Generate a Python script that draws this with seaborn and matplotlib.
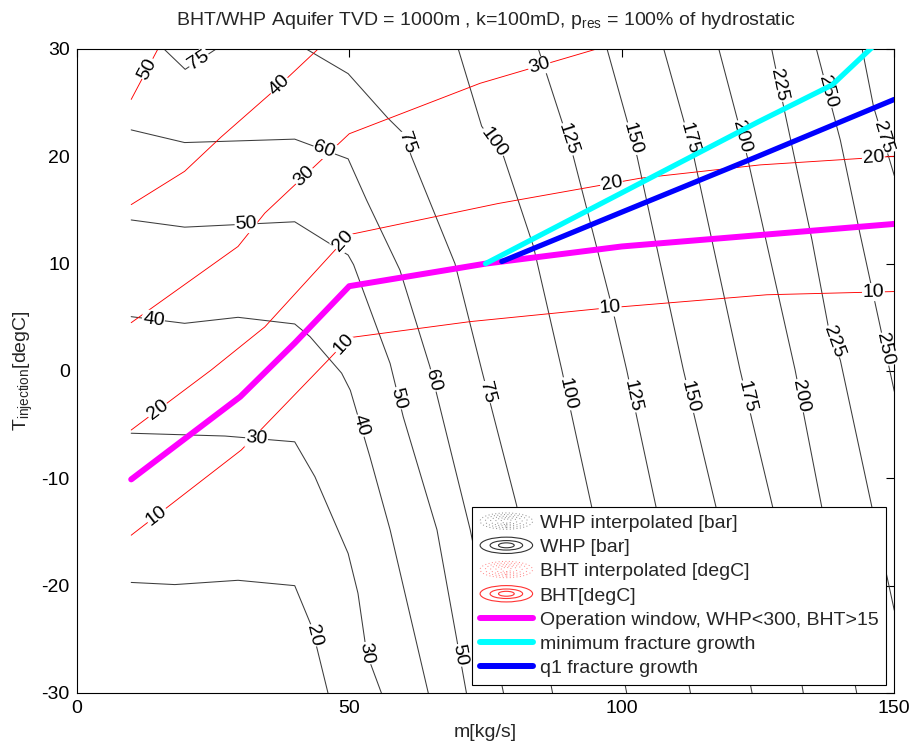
import numpy as np
import matplotlib
matplotlib.use("Agg")
import matplotlib.pyplot as plt
import seaborn as sns
from matplotlib.legend_handler import HandlerBase
from matplotlib.patches import Ellipse
from matplotlib.lines import Line2D

# ---------------- data ----------------
# WHP contours [bar]: x = m [kg/s], y = T_injection [degC]
whp20_x = [10, 18, 29.6, 40, 43.1, 46.1]
whp20_y = [-19.7, -19.9, -19.5, -20.0, -23.8, -30]
whp30_x = [10, 27.2, 40, 43.7, 49.8, 51.6, 53.2, 55.9]
whp30_y = [-5.8, -6.06, -6.6, -9.85, -17, -20.7, -26.3, -30]
whp40_x = [10, 19.8, 29.6, 40, 42.8, 48.6, 50.2, 53.8, 57.5, 64.5]
whp40_y = [5.06, 4.44, 5.0, 4.38, 3.2, -0.2, -1.8, -8.0, -14.8, -30]
whp50_x = [10, 19.8, 40, 49.8, 50.8, 57.5, 59.9, 66.1, 71.5]
whp50_y = [14.07, 13.4, 13.9, 10.8, 9.9, 0.7, -4.26, -14.8, -30]
whp60_x = [10, 19.8, 40, 49.8, 53.2, 59.3, 64.8, 72.2, 78.3]
whp60_y = [22.46, 21.28, 21.6, 19.76, 15.9, 9.4, 0.4, -14.8, -30]
whp75a_x = [16, 19.9, 25.6]
whp75a_y = [30, 28.1, 30]
whp75_x = [42.1, 49.8, 57.1, 59.9, 61.4, 69.4, 74.3, 80.7, 87.3]
whp75_y = [30, 27.7, 23.55, 22.15, 20.0, 10.0, 0.1, -12.5, -30]
whp100_x = [70, 74.3, 78.3, 83.8, 89, 94.5, 100.9]
whp100_y = [30, 22.8, 20.0, 11.6, 0.1, -12.7, -30]
whp125_x = [84.7, 91.1, 98.2, 100.9, 106.3, 112.6]
whp125_y = [30, 20.0, 6.0, 0.1, -12.7, -30]
whp150_x = [97.3, 102.8, 111.3, 117.3, 123.9]
whp150_y = [30, 20, 0.1, -12.7, -30]
whp175_x = [107.7, 113.2, 121.7, 127.7, 133.3]
whp175_y = [30, 20, 0.1, -12.7, -30]
whp200_x = [117.8, 123, 131.8, 136.7, 143.1]
whp200_y = [30, 20, 0.1, -12.7, -30]
whp225_x = [127.5, 129.7, 134.9, 137.9, 140.1, 145.9, 150]
whp225_y = [30, 24.6, 12.2, 4.1, 1.0, -12.7, -22.3]
whp250_x = [135.7, 140.1, 143.7, 150]
whp250_y = [30, 21.5, 12.8, -1.9]
whp275_x = [144.1, 146.2, 150]
whp275_y = [30, 24.6, 18.2]

# BHT contours [degC]
bht50_x = [10, 14.9]
bht50_y = [25.3, 30]
bht40_x = [10, 19.8, 26.5, 35.7, 44.3]
bht40_y = [15.5, 18.6, 21.8, 25.9, 30]
bht30_x = [10, 29.6, 34.5, 50, 74, 95.4]
bht30_y = [4.5, 11.6, 14.7, 22.1, 26.8, 30]
bht20_x = [10, 24.7, 34.5, 48, 50, 77.3, 103.4, 125.4, 150]
bht20_y = [-5.5, 0.1, 4.1, 11.6, 12.7, 15.6, 17.96, 19.2, 20.0]
bht10_x = [10, 30.2, 46.1, 50, 72.2, 96.6, 126.6, 150]
bht10_y = [-15.3, -7.36, 1.0, 3.1, 4.6, 5.84, 7.1, 7.4]

# thick lines
op_x = [10, 30, 40, 50, 75, 100, 125, 150]
op_y = [-10.1, -2.4, 2.6, 7.9, 10.0, 11.6, 12.65, 13.7]
minfrac_x = [75, 100, 125, 138.6, 150]
minfrac_y = [10.0, 16.6, 23.2, 26.65, 32.1]
q1frac_x = [78, 100, 125, 150]
q1frac_y = [10.2, 14.8, 20.0, 25.3]

# contour labels (approximate positions, snapped onto the line in code)
whp_lab_val = [75, 60, 50, 50, 50, 40, 40, 30, 30, 20, 75, 75, 60, 100, 100, 125, 125,
               150, 150, 175, 175, 200, 200, 225, 225, 250, 250, 275]
whp_lab_x = [22.6, 45.2, 31.1, 57.8, 70.2, 14, 51.4, 33, 53.2, 42.1, 59.9, 74.3, 64.5, 76.1, 89.3, 89, 101.2,
             100.9, 112.2, 111.3, 123, 121.1, 131.8, 127.8, 138.6, 136.7, 148, 147.4]
whp_lab_y = [28.8, 20.3, 13.4, -2.7, -26.5, 4.5, -5.2, -6.3, -26.3, -24.8, 21.2, -2.1, -1.0, 21.2, -2.2, 21.4, -2.4,
             21.5, -2.4, 21.5, -2.4, 21.7, -2.4, 26.5, 2.7, 25.9, 2.0, 21.7]
bht_lab_val = [50, 40, 30, 30, 20, 20, 20, 20, 10, 10, 10, 10]
bht_lab_x = [12.8, 37.3, 42.4, 85, 15.2, 49, 98.2, 146.2, 14.9, 49, 97.9, 146.2]
bht_lab_y = [28.2, 26.5, 17.8, 28.2, -3.9, 12.1, 17.2, 19.5, -13.6, 2.5, 5.7, 6.9]

whp_contours = [(20, whp20_x, whp20_y), (30, whp30_x, whp30_y), (40, whp40_x, whp40_y),
                (50, whp50_x, whp50_y), (60, whp60_x, whp60_y), (75, whp75a_x, whp75a_y),
                (75, whp75_x, whp75_y), (100, whp100_x, whp100_y), (125, whp125_x, whp125_y),
                (150, whp150_x, whp150_y), (175, whp175_x, whp175_y), (200, whp200_x, whp200_y),
                (225, whp225_x, whp225_y), (250, whp250_x, whp250_y), (275, whp275_x, whp275_y)]
bht_contours = [(50, bht50_x, bht50_y), (40, bht40_x, bht40_y), (30, bht30_x, bht30_y),
                (20, bht20_x, bht20_y), (10, bht10_x, bht10_y)]

# ---------------- style ----------------
sns.set_style("white")
plt.rcParams["font.family"] = ["Liberation Sans", "DejaVu Sans"]
plt.rcParams["mathtext.default"] = "regular"
plt.rcParams["axes.unicode_minus"] = False

FS = 14

fig = plt.figure(figsize=(9.12, 7.43), dpi=100)
ax = fig.add_axes([0.0841, 0.0673, 0.8965, 0.8668])

WHP_COLOR = "#3c3c3c"
BHT_COLOR = "#ff0000"

for lvl, xs, ys in whp_contours:
    sns.lineplot(x=xs, y=ys, sort=False, estimator=None, color=WHP_COLOR,
                 linewidth=0.75, ax=ax, zorder=2)
for lvl, xs, ys in bht_contours:
    sns.lineplot(x=xs, y=ys, sort=False, estimator=None, color=BHT_COLOR,
                 linewidth=0.65, ax=ax, zorder=2)

ax.set_xlim(0, 150)
ax.set_ylim(-30, 30)
ax.set_xticks([0, 50, 100, 150])
ax.set_yticks([-30, -20, -10, 0, 10, 20, 30])
fig.canvas.draw()


def place_label(text, lx, ly, curves):
    p = ax.transData.transform((lx, ly))
    best = None
    for xs, ys in curves:
        pts = ax.transData.transform(np.column_stack([xs, ys]))
        for i in range(len(pts) - 1):
            a, b = pts[i], pts[i + 1]
            d = b - a
            t = np.clip(np.dot(p - a, d) / np.dot(d, d), 0, 1)
            q = a + t * d
            dist = np.linalg.norm(p - q)
            if best is None or dist < best[0]:
                best = (dist, q, d)
    _, q, d = best
    ang = np.degrees(np.arctan2(d[1], d[0]))
    if ang > 90:
        ang -= 180
    if ang <= -90:
        ang += 180
    xq, yq = ax.transData.inverted().transform(q)
    ax.text(xq, yq, text, rotation=ang, rotation_mode="anchor", ha="center",
            va="center", fontsize=FS, color="black", zorder=3,
            bbox=dict(fc="white", ec="none", pad=0.4))


for v, lx, ly in zip(whp_lab_val, whp_lab_x, whp_lab_y):
    curves = [(xs, ys) for lvl, xs, ys in whp_contours if lvl == v]
    place_label(str(v), lx, ly, curves)
for v, lx, ly in zip(bht_lab_val, bht_lab_x, bht_lab_y):
    curves = [(xs, ys) for lvl, xs, ys in bht_contours if lvl == v]
    place_label(str(v), lx, ly, curves)

sns.lineplot(x=op_x, y=op_y, sort=False, estimator=None, color="#ff00ff",
             linewidth=4.3, ax=ax, zorder=4)
sns.lineplot(x=minfrac_x, y=minfrac_y, sort=False, estimator=None, color="#00ffff",
             linewidth=3.8, ax=ax, zorder=4)
sns.lineplot(x=q1frac_x, y=q1frac_y, sort=False, estimator=None, color="#0000ff",
             linewidth=3.8, ax=ax, zorder=4)


class EllipseHandler(HandlerBase):
    def __init__(self, color, ls, sizes, lw):
        super().__init__()
        self.color = color
        self.ls = ls
        self.sizes = sizes
        self.lw = lw

    def create_artists(self, legend, orig_handle, xdescent, ydescent, width,
                       height, fontsize, trans):
        cx = -xdescent + width / 2
        cy = -ydescent + height / 2
        arts = []
        for fw, fh in self.sizes:
            e = Ellipse((cx, cy), width * fw, height * 1.2 * fh, fill=False,
                        edgecolor=self.color, linestyle=self.ls,
                        linewidth=self.lw, transform=trans)
            arts.append(e)
        return arts


dot_sizes = [(1, 1), (0.8, 0.8), (0.6, 0.6), (0.4, 0.42), (0.2, 0.25)]
solid_sizes = [(1, 1), (0.62, 0.58), (0.3, 0.3)]
h_whpi = Line2D([], [])
h_whp = Line2D([], [])
h_bhti = Line2D([], [])
h_bht = Line2D([], [])
h_op = Line2D([0], [0], color="#ff00ff", linewidth=4.3)
h_min = Line2D([0], [0], color="#00ffff", linewidth=4.3)
h_q1 = Line2D([0], [0], color="#0000ff", linewidth=4.3)
handler_map = {
    h_whpi: EllipseHandler("#888888", (0, (1, 2.5)), dot_sizes, 0.7),
    h_whp: EllipseHandler("#333333", "-", solid_sizes, 0.8),
    h_bhti: EllipseHandler("#ff8080", (0, (1, 2.5)), dot_sizes, 0.7),
    h_bht: EllipseHandler("#ff3333", "-", solid_sizes, 0.8),
}
leg = ax.legend([h_whpi, h_whp, h_bhti, h_bht, h_op, h_min, h_q1],
                ["WHP interpolated [bar]", "WHP [bar]", "BHT interpolated [degC]",
                 "BHT[degC]", "Operation window, WHP<300, BHT>15",
                 "minimum fracture growth", "q1 fracture growth"],
                handler_map=handler_map, loc="lower right",
                bbox_to_anchor=(0.990, 0.0124), borderaxespad=0, fontsize=FS,
                frameon=True, fancybox=False, edgecolor="black", framealpha=1,
                handlelength=2.7, handletextpad=0.36, labelspacing=0.34,
                borderpad=0.4)
leg.get_frame().set_linewidth(0.8)
leg.set_zorder(10)

ax.set_title("BHT/WHP Aquifer TVD = 1000m , k=100mD, p$_{res}$ = 100% of hydrostatic",
             fontsize=FS, pad=17)
ax.set_xlabel("m[kg/s]", fontsize=FS, labelpad=5)
ax.set_ylabel("T$_{injection}$[degC]", fontsize=FS, labelpad=5)
ax.tick_params(direction="in", top=True, right=True, length=6, width=0.8,
               labelsize=FS, colors="black", pad=5)
for s in ax.spines.values():
    s.set_color("black")
    s.set_linewidth(0.8)

fig.savefig("out.png", dpi=100)
